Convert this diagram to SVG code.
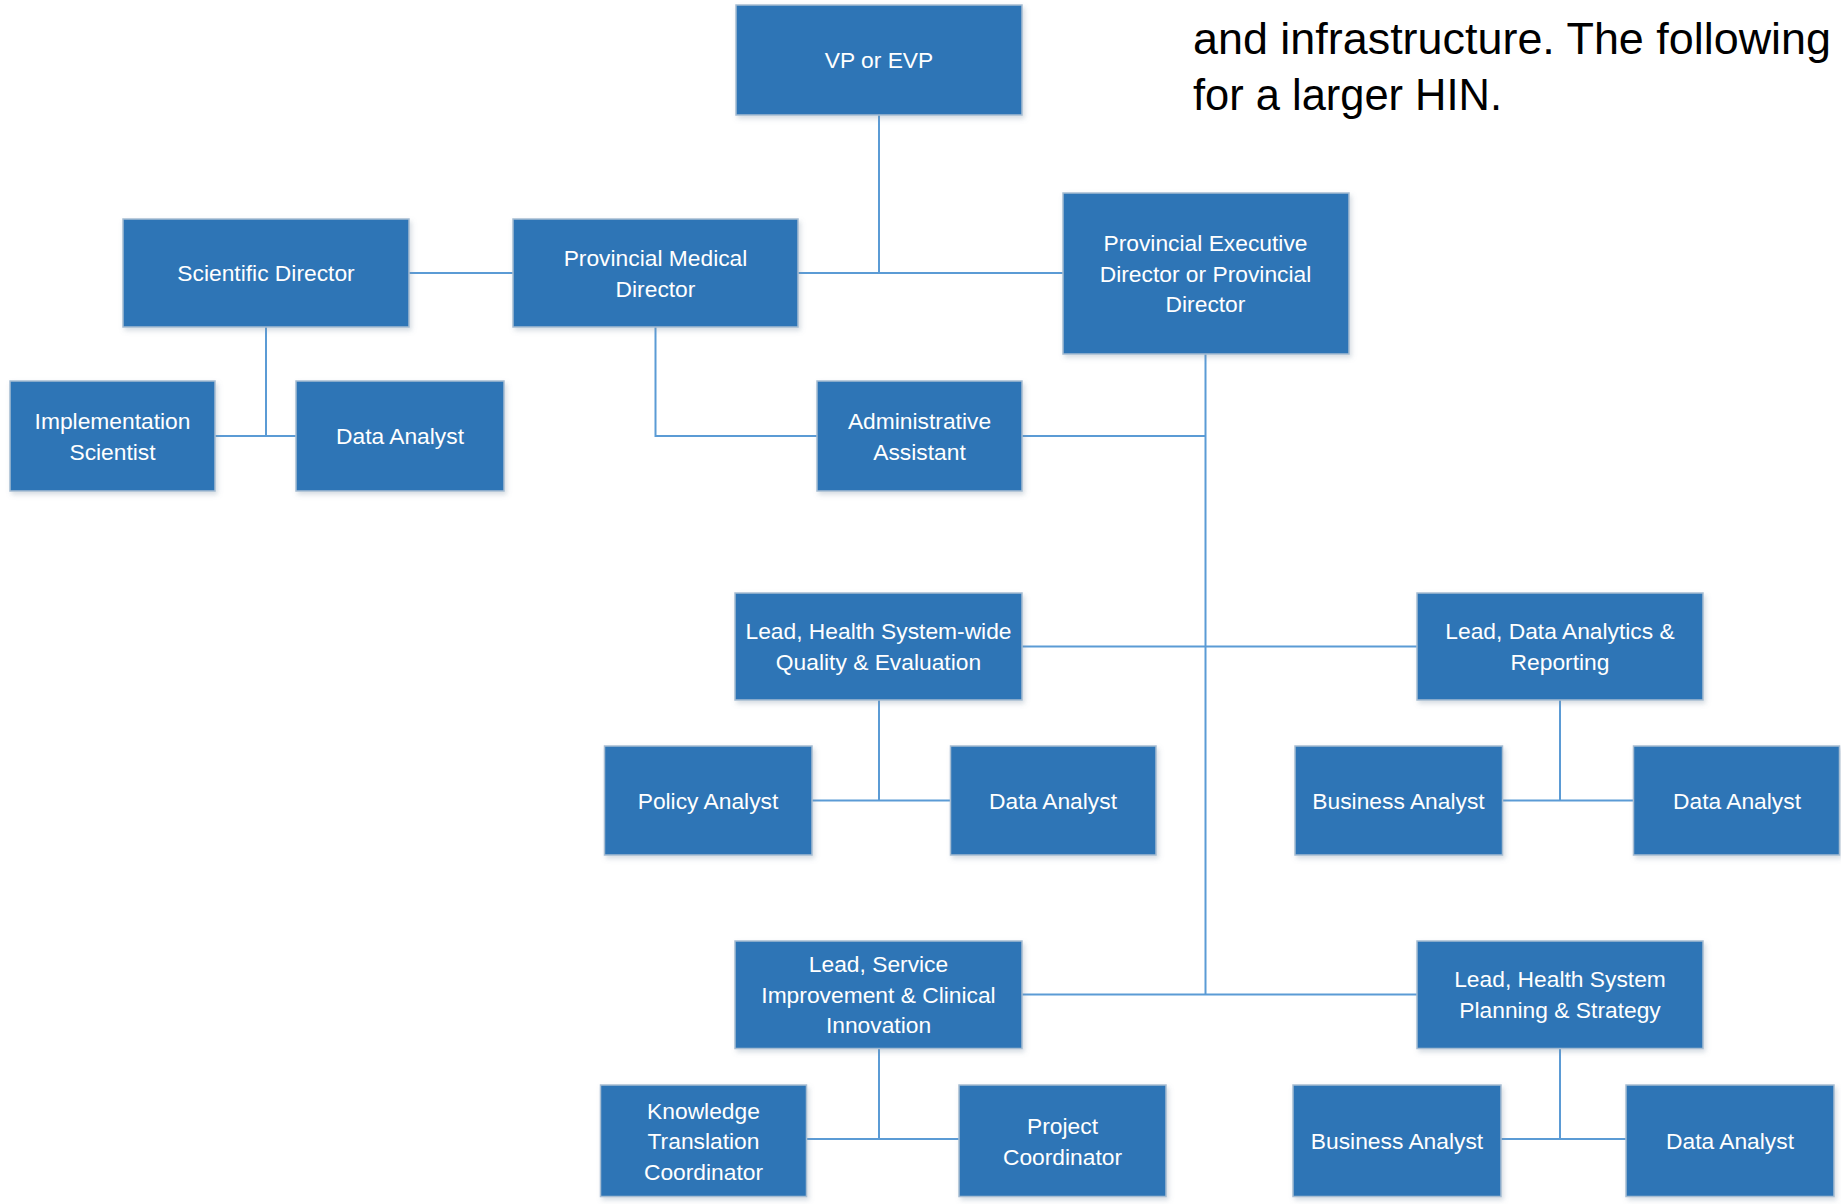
<svg xmlns="http://www.w3.org/2000/svg" width="1841" height="1204" viewBox="0 0 1841 1204">
<style>
  .box { fill: #2E75B6; stroke: #a7bdd2; stroke-width: 1.5; filter: url(#sh); }
  .lbl { font-family: "Liberation Sans", Arial, sans-serif; font-size: 22.8px; fill: #ffffff; text-anchor: middle; }
  .con { fill: none; stroke: #5B9BD5; stroke-width: 2; }
  .body { font-family: "Liberation Sans", Arial, sans-serif; font-size: 44px; fill: #000000; }
</style>
<defs>
  <filter id="sh" x="-10%" y="-10%" width="125%" height="130%">
    <feDropShadow dx="2" dy="3" stdDeviation="2.5" flood-color="#7a8ea3" flood-opacity="0.3"/>
  </filter>
</defs>
<rect width="1841" height="1204" fill="#ffffff"/>

<g id="intro-text">
  <text class="body" x="1193" y="54" textLength="638" lengthAdjust="spacingAndGlyphs">and infrastructure. The following</text>
  <text class="body" x="1193" y="110" textLength="309" lengthAdjust="spacingAndGlyphs">for a larger HIN.</text>
</g>

<g id="connectors">
  <path class="con" d="M879 115 V273"/>
  <path class="con" d="M798 273 H1063"/>
  <path class="con" d="M409 273 H513"/>
  <path class="con" d="M266 327 V436"/>
  <path class="con" d="M215 436 H296"/>
  <path class="con" d="M655.5 327 V436 H817"/>
  <path class="con" d="M1022 436 H1205.5"/>
  <path class="con" d="M1205.5 354 V994.5"/>
  <path class="con" d="M1022 646.5 H1417"/>
  <path class="con" d="M1022 994.5 H1417"/>
  <path class="con" d="M879 700 V800.5"/>
  <path class="con" d="M812 800.5 H950.5"/>
  <path class="con" d="M1560 700 V800.5"/>
  <path class="con" d="M1502.5 800.5 H1633.5"/>
  <path class="con" d="M879 1048.5 V1139"/>
  <path class="con" d="M806.5 1139 H959"/>
  <path class="con" d="M1560 1048.5 V1139"/>
  <path class="con" d="M1501 1139 H1626"/>
</g>

<g id="vp">
  <rect class="box" x="736" y="5" width="286" height="110"/>
  <text class="lbl" x="879" y="68">VP or EVP</text>
</g>
<g id="scientific-director">
  <rect class="box" x="123" y="219" width="286" height="108"/>
  <text class="lbl" x="266" y="281">Scientific Director</text>
</g>
<g id="provincial-medical-director">
  <rect class="box" x="513" y="219" width="285" height="108"/>
  <text class="lbl" x="655.5" y="266">Provincial Medical</text>
  <text class="lbl" x="655.5" y="296.5">Director</text>
</g>
<g id="provincial-executive-director">
  <rect class="box" x="1063" y="193" width="286" height="161"/>
  <text class="lbl" x="1205.5" y="251">Provincial Executive</text>
  <text class="lbl" x="1205.5" y="281.5">Director or Provincial</text>
  <text class="lbl" x="1205.5" y="312">Director</text>
</g>
<g id="implementation-scientist">
  <rect class="box" x="10" y="381" width="205" height="110"/>
  <text class="lbl" x="112.5" y="429">Implementation</text>
  <text class="lbl" x="112.5" y="459.5">Scientist</text>
</g>
<g id="data-analyst-1">
  <rect class="box" x="296" y="381" width="208" height="110"/>
  <text class="lbl" x="400" y="444">Data Analyst</text>
</g>
<g id="administrative-assistant">
  <rect class="box" x="817" y="381" width="205" height="110"/>
  <text class="lbl" x="919.5" y="429">Administrative</text>
  <text class="lbl" x="919.5" y="459.5">Assistant</text>
</g>
<g id="lead-quality-evaluation">
  <rect class="box" x="735" y="593" width="287" height="107"/>
  <text class="lbl" x="878.5" y="639">Lead, Health System-wide</text>
  <text class="lbl" x="878.5" y="669.5">Quality &amp; Evaluation</text>
</g>
<g id="lead-data-analytics">
  <rect class="box" x="1417" y="593" width="286" height="107"/>
  <text class="lbl" x="1560" y="639">Lead, Data Analytics &amp;</text>
  <text class="lbl" x="1560" y="669.5">Reporting</text>
</g>
<g id="policy-analyst">
  <rect class="box" x="604.5" y="746" width="207.5" height="109"/>
  <text class="lbl" x="708" y="808.5">Policy Analyst</text>
</g>
<g id="data-analyst-2">
  <rect class="box" x="950.5" y="746" width="205.5" height="109"/>
  <text class="lbl" x="1053" y="808.5">Data Analyst</text>
</g>
<g id="business-analyst-1">
  <rect class="box" x="1295" y="746" width="207.5" height="109"/>
  <text class="lbl" x="1398.5" y="808.5">Business Analyst</text>
</g>
<g id="data-analyst-3">
  <rect class="box" x="1633.5" y="746" width="206" height="109"/>
  <text class="lbl" x="1737" y="808.5">Data Analyst</text>
</g>
<g id="lead-service-improvement">
  <rect class="box" x="735" y="941" width="287" height="107.5"/>
  <text class="lbl" x="878.5" y="972">Lead, Service</text>
  <text class="lbl" x="878.5" y="1002.5">Improvement &amp; Clinical</text>
  <text class="lbl" x="878.5" y="1033">Innovation</text>
</g>
<g id="lead-planning-strategy">
  <rect class="box" x="1417" y="941" width="286" height="107.5"/>
  <text class="lbl" x="1560" y="987">Lead, Health System</text>
  <text class="lbl" x="1560" y="1017.5">Planning &amp; Strategy</text>
</g>
<g id="knowledge-translation-coordinator">
  <rect class="box" x="600.5" y="1085" width="206" height="111.5"/>
  <text class="lbl" x="703.5" y="1118.5">Knowledge</text>
  <text class="lbl" x="703.5" y="1149">Translation</text>
  <text class="lbl" x="703.5" y="1179.5">Coordinator</text>
</g>
<g id="project-coordinator">
  <rect class="box" x="959" y="1085" width="207" height="111.5"/>
  <text class="lbl" x="1062.5" y="1134">Project</text>
  <text class="lbl" x="1062.5" y="1164.5">Coordinator</text>
</g>
<g id="business-analyst-2">
  <rect class="box" x="1293" y="1085" width="208" height="111.5"/>
  <text class="lbl" x="1397" y="1149">Business Analyst</text>
</g>
<g id="data-analyst-4">
  <rect class="box" x="1626" y="1085" width="208" height="111.5"/>
  <text class="lbl" x="1730" y="1149">Data Analyst</text>
</g>
</svg>
